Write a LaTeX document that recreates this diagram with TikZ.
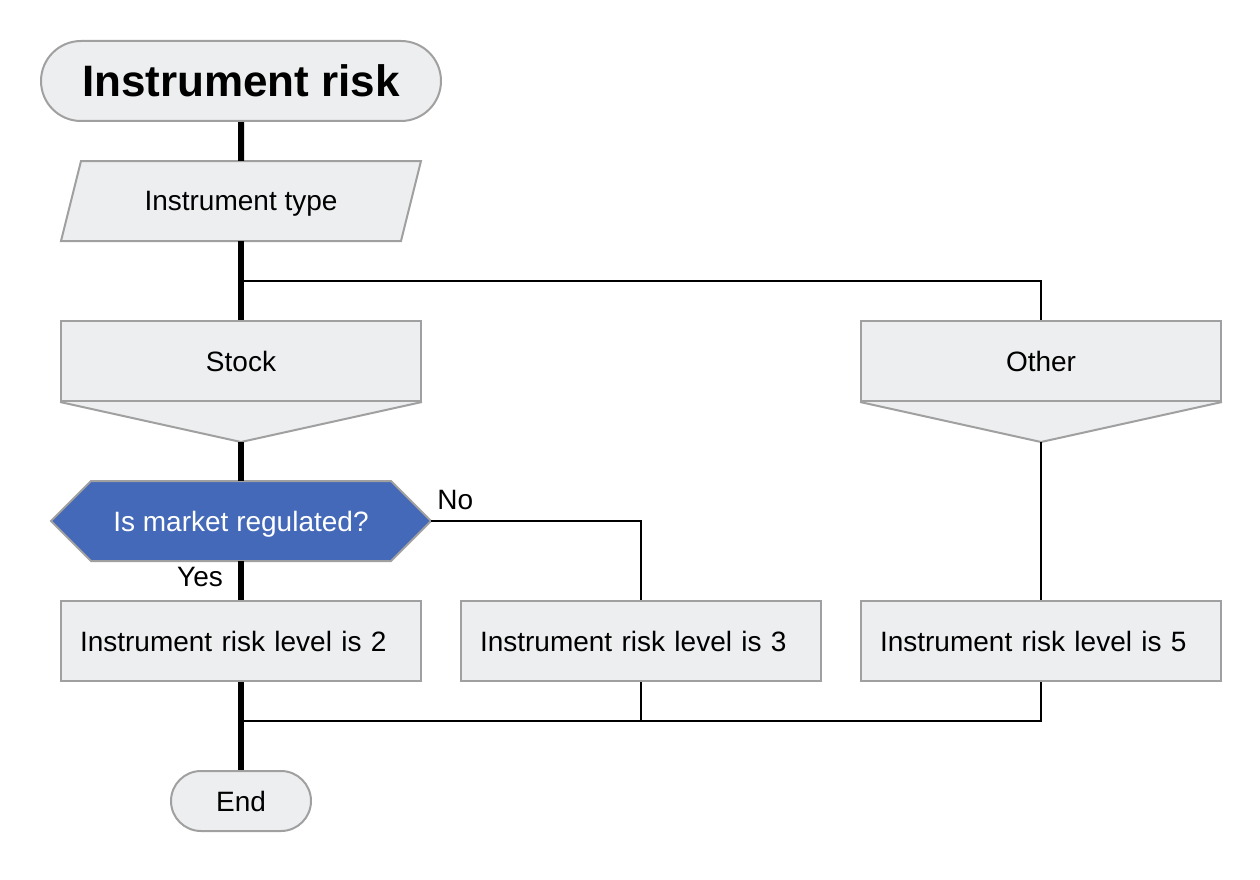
\documentclass[tikz,border=0pt]{standalone}
\usepackage{fontspec}
\setmainfont{Liberation Sans}
\usetikzlibrary{shapes.misc}

\definecolor{boxfill}{RGB}{237,238,240}
\definecolor{boxline}{RGB}{160,160,160}
\definecolor{askblue}{RGB}{68,105,184}

\tikzset{
  every node/.style={font=\fontsize{28}{34}\selectfont, text depth=0pt},
  shapeline/.style={draw=boxline, fill=boxfill, line width=2pt},
  termbox/.style={rounded rectangle, shapeline, minimum height=80pt, inner sep=0pt},
  textbox/.style={rectangle, minimum height=80pt, inner sep=0pt},
  choicebox/.style={rectangle, shapeline, minimum width=360pt, minimum height=80pt, inner sep=0pt},
  levelbox/.style={rectangle, shapeline, text width=322pt, inner xsep=19pt, inner ysep=0pt,
    minimum height=80pt, align=left},
  lbl/.style={inner sep=6pt},
  mainline/.style={line width=6pt},
  branchline/.style={line width=2pt}
}

\begin{document}
\begin{tikzpicture}[x=1pt,y=-1pt]
\useasboundingbox (0,0) rectangle (1260,880);

% Start
\node[termbox, minimum width=400pt, font=\fontsize{44}{52}\selectfont\bfseries] (start) at (241,81) {Instrument risk};

% Input
\filldraw[shapeline] (81,161) -- (421,161) -- (401,241) -- (61,241) -- cycle;
\node[textbox, minimum width=340pt] (type) at (241,201) {Instrument type};

% Cases
\node[choicebox] (stock) at (241,361) {Stock};
\coordinate (stocktip) at ([yshift=-40pt]stock.south);
\fill[boxfill] (stock.south west) -- (stocktip) -- (stock.south east) -- cycle;
\draw[shapeline] (stock.south west) -- (stocktip) -- (stock.south east);

\node[choicebox] (other) at (1041,361) {Other};
\coordinate (othertip) at ([yshift=-40pt]other.south);
\fill[boxfill] (other.south west) -- (othertip) -- (other.south east) -- cycle;
\draw[shapeline] (other.south west) -- (othertip) -- (other.south east);

% Question
\filldraw[shapeline, fill=askblue] (51,521) -- (91,481) -- (391,481) -- (431,521) -- (391,561) -- (91,561) -- cycle;
\node[textbox, minimum width=380pt, text=white] (ask) at (241,521) {Is market regulated?};
\node[lbl, anchor=south west, yshift=5pt] (nolbl) at (ask.east) {No};
\node[lbl, anchor=north east, xshift=-12pt] (yeslbl) at (ask.south) {Yes};

% Results
\node[levelbox] (lvl2) at (241,641) {Instrument risk level is 2};
\node[levelbox] (lvl3) at (641,641) {Instrument risk level is 3};
\node[levelbox] (lvl5) at (1041,641) {Instrument risk level is 5};

% End
\node[termbox, minimum width=140pt, minimum height=60pt] (end) at (241,801) {End};

% Side branches
\coordinate (split) at (241,281);
\coordinate (join) at (241,721);
\draw[branchline] (split) -| (other);
\draw[branchline] (othertip) -- (lvl5);
\draw[branchline] (ask) -| (lvl3);
\draw[branchline] (lvl3) |- (join);
\draw[branchline] (lvl5) |- (join);

% Main path
\draw[mainline] (start) -- (type);
\draw[mainline] (type) -- (stock);
\draw[mainline] (stocktip) -- (ask);
\draw[mainline] (ask) -- (lvl2);
\draw[mainline] (lvl2) -- (end);

\end{tikzpicture}
\end{document}
